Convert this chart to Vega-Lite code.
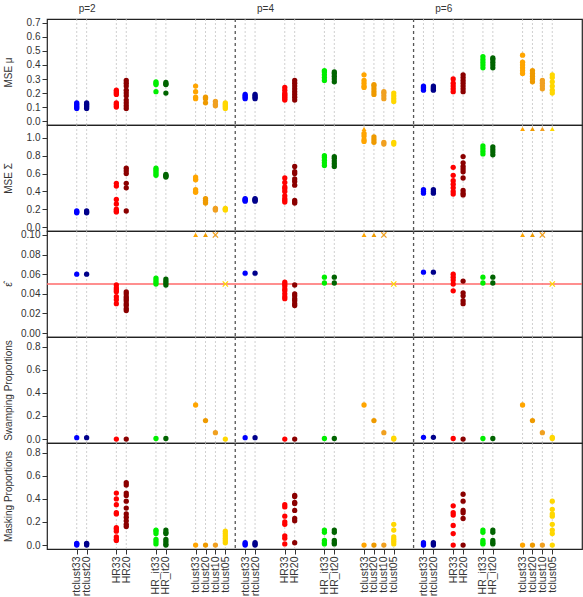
{
"$schema": "https://vega.github.io/schema/vega-lite/v6.json",
"padding": {"left": 2, "top": 2, "right": 0, "bottom": 0},
"spacing": 0,
"bounds": "flush",
"datasets": {
"pos": [{"x":1,"m":"rtclust33"},{"x":2,"m":"rtclust20"},{"x":5,"m":"HR33"},{"x":6,"m":"HR20"},{"x":9,"m":"HR_it33"},{"x":10,"m":"HR_it20"},{"x":13,"m":"tclust33"},{"x":14,"m":"tclust20"},{"x":15,"m":"tclust10"},{"x":16,"m":"tclust05"},
{"x":18,"m":"rtclust33"},{"x":19,"m":"rtclust20"},{"x":22,"m":"HR33"},{"x":23,"m":"HR20"},{"x":26,"m":"HR_it33"},{"x":27,"m":"HR_it20"},{"x":30,"m":"tclust33"},{"x":31,"m":"tclust20"},{"x":32,"m":"tclust10"},{"x":33,"m":"tclust05"},
{"x":36,"m":"rtclust33"},{"x":37,"m":"rtclust20"},{"x":39,"m":"HR33"},{"x":40,"m":"HR20"},{"x":42,"m":"HR_it33"},{"x":43,"m":"HR_it20"},{"x":46,"m":"tclust33"},{"x":47,"m":"tclust20"},{"x":48,"m":"tclust10"},{"x":49,"m":"tclust05"}],
"sep": [{"x":17},{"x":35}],
"ref": [{"y":0.05}],
"off": [
{"g":"sig","x":30,"y":1.1,"s":"tri"},{"g":"sig","x":46,"y":1.1,"s":"tri"},{"g":"sig","x":47,"y":1.1,"s":"tri"},{"g":"sig","x":48,"y":1.1,"s":"tri"},{"g":"sig","x":49,"y":1.1,"s":"tri"},
{"g":"eps","x":13,"y":0.1,"s":"tri"},{"g":"eps","x":14,"y":0.1,"s":"tri"},{"g":"eps","x":15,"y":0.1,"s":"x"},{"g":"eps","x":16,"y":0.05,"s":"x"},
{"g":"eps","x":30,"y":0.1,"s":"tri"},{"g":"eps","x":31,"y":0.1,"s":"tri"},{"g":"eps","x":32,"y":0.1,"s":"x"},{"g":"eps","x":33,"y":0.05,"s":"x"},
{"g":"eps","x":46,"y":0.1,"s":"tri"},{"g":"eps","x":47,"y":0.1,"s":"tri"},{"g":"eps","x":48,"y":0.1,"s":"x"},{"g":"eps","x":49,"y":0.05,"s":"x"}
],
"pts": [
{"g":"mu","x":1,"y":0.09},{"g":"mu","x":1,"y":0.10},{"g":"mu","x":1,"y":0.11},{"g":"mu","x":1,"y":0.12},{"g":"mu","x":1,"y":0.13},
{"g":"mu","x":2,"y":0.09},{"g":"mu","x":2,"y":0.10},{"g":"mu","x":2,"y":0.11},{"g":"mu","x":2,"y":0.12},{"g":"mu","x":2,"y":0.13},
{"g":"mu","x":5,"y":0.10},{"g":"mu","x":5,"y":0.11},{"g":"mu","x":5,"y":0.12},{"g":"mu","x":5,"y":0.13},{"g":"mu","x":5,"y":0.19},{"g":"mu","x":5,"y":0.20},{"g":"mu","x":5,"y":0.21},{"g":"mu","x":5,"y":0.22},
{"g":"mu","x":6,"y":0.09},{"g":"mu","x":6,"y":0.11},{"g":"mu","x":6,"y":0.13},{"g":"mu","x":6,"y":0.15},{"g":"mu","x":6,"y":0.18},{"g":"mu","x":6,"y":0.20},{"g":"mu","x":6,"y":0.22},{"g":"mu","x":6,"y":0.25},{"g":"mu","x":6,"y":0.27},{"g":"mu","x":6,"y":0.29},
{"g":"mu","x":9,"y":0.21},{"g":"mu","x":9,"y":0.26},{"g":"mu","x":9,"y":0.27},{"g":"mu","x":9,"y":0.28},
{"g":"mu","x":10,"y":0.20},{"g":"mu","x":10,"y":0.26},{"g":"mu","x":10,"y":0.265},{"g":"mu","x":10,"y":0.275},
{"g":"mu","x":13,"y":0.16},{"g":"mu","x":13,"y":0.17},{"g":"mu","x":13,"y":0.21},{"g":"mu","x":13,"y":0.25},
{"g":"mu","x":14,"y":0.13},{"g":"mu","x":14,"y":0.16},{"g":"mu","x":14,"y":0.17},
{"g":"mu","x":15,"y":0.11},{"g":"mu","x":15,"y":0.12},{"g":"mu","x":15,"y":0.14},
{"g":"mu","x":16,"y":0.09},{"g":"mu","x":16,"y":0.10},{"g":"mu","x":16,"y":0.11},{"g":"mu","x":16,"y":0.12},{"g":"mu","x":16,"y":0.13},
{"g":"mu","x":18,"y":0.16},{"g":"mu","x":18,"y":0.17},{"g":"mu","x":18,"y":0.18},{"g":"mu","x":18,"y":0.19},
{"g":"mu","x":19,"y":0.16},{"g":"mu","x":19,"y":0.17},{"g":"mu","x":19,"y":0.18},{"g":"mu","x":19,"y":0.19},
{"g":"mu","x":22,"y":0.15},{"g":"mu","x":22,"y":0.16},{"g":"mu","x":22,"y":0.17},{"g":"mu","x":22,"y":0.18},{"g":"mu","x":22,"y":0.19},{"g":"mu","x":22,"y":0.20},{"g":"mu","x":22,"y":0.22},{"g":"mu","x":22,"y":0.24},
{"g":"mu","x":23,"y":0.15},{"g":"mu","x":23,"y":0.17},{"g":"mu","x":23,"y":0.19},{"g":"mu","x":23,"y":0.21},{"g":"mu","x":23,"y":0.23},{"g":"mu","x":23,"y":0.25},{"g":"mu","x":23,"y":0.27},{"g":"mu","x":23,"y":0.29},
{"g":"mu","x":26,"y":0.29},{"g":"mu","x":26,"y":0.31},{"g":"mu","x":26,"y":0.33},{"g":"mu","x":26,"y":0.35},{"g":"mu","x":26,"y":0.36},
{"g":"mu","x":27,"y":0.28},{"g":"mu","x":27,"y":0.30},{"g":"mu","x":27,"y":0.32},{"g":"mu","x":27,"y":0.34},{"g":"mu","x":27,"y":0.35},
{"g":"mu","x":30,"y":0.24},{"g":"mu","x":30,"y":0.25},{"g":"mu","x":30,"y":0.27},{"g":"mu","x":30,"y":0.29},{"g":"mu","x":30,"y":0.33},
{"g":"mu","x":31,"y":0.19},{"g":"mu","x":31,"y":0.21},{"g":"mu","x":31,"y":0.23},{"g":"mu","x":31,"y":0.25},{"g":"mu","x":31,"y":0.26},
{"g":"mu","x":32,"y":0.16},{"g":"mu","x":32,"y":0.18},{"g":"mu","x":32,"y":0.20},{"g":"mu","x":32,"y":0.21},
{"g":"mu","x":33,"y":0.14},{"g":"mu","x":33,"y":0.16},{"g":"mu","x":33,"y":0.18},{"g":"mu","x":33,"y":0.20},
{"g":"mu","x":36,"y":0.22},{"g":"mu","x":36,"y":0.23},{"g":"mu","x":36,"y":0.24},{"g":"mu","x":36,"y":0.25},
{"g":"mu","x":37,"y":0.22},{"g":"mu","x":37,"y":0.23},{"g":"mu","x":37,"y":0.24},{"g":"mu","x":37,"y":0.25},
{"g":"mu","x":39,"y":0.21},{"g":"mu","x":39,"y":0.23},{"g":"mu","x":39,"y":0.25},{"g":"mu","x":39,"y":0.27},{"g":"mu","x":39,"y":0.30},
{"g":"mu","x":40,"y":0.21},{"g":"mu","x":40,"y":0.23},{"g":"mu","x":40,"y":0.25},{"g":"mu","x":40,"y":0.27},{"g":"mu","x":40,"y":0.29},{"g":"mu","x":40,"y":0.31},{"g":"mu","x":40,"y":0.33},
{"g":"mu","x":42,"y":0.38},{"g":"mu","x":42,"y":0.40},{"g":"mu","x":42,"y":0.42},{"g":"mu","x":42,"y":0.44},{"g":"mu","x":42,"y":0.46},
{"g":"mu","x":43,"y":0.38},{"g":"mu","x":43,"y":0.40},{"g":"mu","x":43,"y":0.42},{"g":"mu","x":43,"y":0.44},{"g":"mu","x":43,"y":0.45},
{"g":"mu","x":46,"y":0.34},{"g":"mu","x":46,"y":0.36},{"g":"mu","x":46,"y":0.38},{"g":"mu","x":46,"y":0.40},{"g":"mu","x":46,"y":0.42},{"g":"mu","x":46,"y":0.47},
{"g":"mu","x":47,"y":0.28},{"g":"mu","x":47,"y":0.30},{"g":"mu","x":47,"y":0.32},{"g":"mu","x":47,"y":0.34},{"g":"mu","x":47,"y":0.36},
{"g":"mu","x":48,"y":0.23},{"g":"mu","x":48,"y":0.25},{"g":"mu","x":48,"y":0.27},{"g":"mu","x":48,"y":0.29},
{"g":"mu","x":49,"y":0.20},{"g":"mu","x":49,"y":0.22},{"g":"mu","x":49,"y":0.25},{"g":"mu","x":49,"y":0.28},{"g":"mu","x":49,"y":0.31},{"g":"mu","x":49,"y":0.33},

{"g":"sig","x":1,"y":0.16},{"g":"sig","x":1,"y":0.17},{"g":"sig","x":1,"y":0.18},
{"g":"sig","x":2,"y":0.16},{"g":"sig","x":2,"y":0.17},{"g":"sig","x":2,"y":0.18},
{"g":"sig","x":5,"y":0.17},{"g":"sig","x":5,"y":0.18},{"g":"sig","x":5,"y":0.20},{"g":"sig","x":5,"y":0.26},{"g":"sig","x":5,"y":0.31},{"g":"sig","x":5,"y":0.46},{"g":"sig","x":5,"y":0.49},
{"g":"sig","x":6,"y":0.18},{"g":"sig","x":6,"y":0.44},{"g":"sig","x":6,"y":0.49},{"g":"sig","x":6,"y":0.60},{"g":"sig","x":6,"y":0.63},{"g":"sig","x":6,"y":0.66},
{"g":"sig","x":9,"y":0.58},{"g":"sig","x":9,"y":0.60},{"g":"sig","x":9,"y":0.62},{"g":"sig","x":9,"y":0.64},{"g":"sig","x":9,"y":0.66},
{"g":"sig","x":10,"y":0.56},{"g":"sig","x":10,"y":0.57},{"g":"sig","x":10,"y":0.58},{"g":"sig","x":10,"y":0.59},
{"g":"sig","x":13,"y":0.39},{"g":"sig","x":13,"y":0.40},{"g":"sig","x":13,"y":0.42},{"g":"sig","x":13,"y":0.53},{"g":"sig","x":13,"y":0.54},{"g":"sig","x":13,"y":0.56},
{"g":"sig","x":14,"y":0.27},{"g":"sig","x":14,"y":0.28},{"g":"sig","x":14,"y":0.30},{"g":"sig","x":14,"y":0.32},
{"g":"sig","x":15,"y":0.19},{"g":"sig","x":15,"y":0.20},{"g":"sig","x":15,"y":0.21},
{"g":"sig","x":16,"y":0.19},{"g":"sig","x":16,"y":0.20},{"g":"sig","x":16,"y":0.21},
{"g":"sig","x":18,"y":0.29},{"g":"sig","x":18,"y":0.30},{"g":"sig","x":18,"y":0.31},{"g":"sig","x":18,"y":0.32},
{"g":"sig","x":19,"y":0.29},{"g":"sig","x":19,"y":0.30},{"g":"sig","x":19,"y":0.31},{"g":"sig","x":19,"y":0.32},
{"g":"sig","x":22,"y":0.28},{"g":"sig","x":22,"y":0.30},{"g":"sig","x":22,"y":0.32},{"g":"sig","x":22,"y":0.35},{"g":"sig","x":22,"y":0.40},{"g":"sig","x":22,"y":0.43},{"g":"sig","x":22,"y":0.45},{"g":"sig","x":22,"y":0.50},{"g":"sig","x":22,"y":0.55},
{"g":"sig","x":23,"y":0.27},{"g":"sig","x":23,"y":0.28},{"g":"sig","x":23,"y":0.30},{"g":"sig","x":23,"y":0.47},{"g":"sig","x":23,"y":0.51},{"g":"sig","x":23,"y":0.54},{"g":"sig","x":23,"y":0.60},{"g":"sig","x":23,"y":0.62},{"g":"sig","x":23,"y":0.68},
{"g":"sig","x":26,"y":0.69},{"g":"sig","x":26,"y":0.72},{"g":"sig","x":26,"y":0.75},{"g":"sig","x":26,"y":0.78},{"g":"sig","x":26,"y":0.80},
{"g":"sig","x":27,"y":0.68},{"g":"sig","x":27,"y":0.71},{"g":"sig","x":27,"y":0.74},{"g":"sig","x":27,"y":0.77},{"g":"sig","x":27,"y":0.79},
{"g":"sig","x":30,"y":0.96},{"g":"sig","x":30,"y":0.98},{"g":"sig","x":30,"y":1.02},{"g":"sig","x":30,"y":1.05},
{"g":"sig","x":31,"y":0.95},{"g":"sig","x":31,"y":0.98},{"g":"sig","x":31,"y":1.01},
{"g":"sig","x":32,"y":0.93},{"g":"sig","x":32,"y":0.95},
{"g":"sig","x":33,"y":0.93},{"g":"sig","x":33,"y":0.95},
{"g":"sig","x":36,"y":0.38},{"g":"sig","x":36,"y":0.40},{"g":"sig","x":36,"y":0.42},
{"g":"sig","x":37,"y":0.38},{"g":"sig","x":37,"y":0.40},{"g":"sig","x":37,"y":0.42},
{"g":"sig","x":39,"y":0.37},{"g":"sig","x":39,"y":0.40},{"g":"sig","x":39,"y":0.44},{"g":"sig","x":39,"y":0.48},{"g":"sig","x":39,"y":0.52},{"g":"sig","x":39,"y":0.58},{"g":"sig","x":39,"y":0.67},
{"g":"sig","x":40,"y":0.36},{"g":"sig","x":40,"y":0.38},{"g":"sig","x":40,"y":0.41},{"g":"sig","x":40,"y":0.55},{"g":"sig","x":40,"y":0.62},{"g":"sig","x":40,"y":0.65},{"g":"sig","x":40,"y":0.68},{"g":"sig","x":40,"y":0.72},{"g":"sig","x":40,"y":0.79},
{"g":"sig","x":42,"y":0.82},{"g":"sig","x":42,"y":0.85},{"g":"sig","x":42,"y":0.88},{"g":"sig","x":42,"y":0.91},
{"g":"sig","x":43,"y":0.81},{"g":"sig","x":43,"y":0.84},{"g":"sig","x":43,"y":0.87},{"g":"sig","x":43,"y":0.90},

{"g":"eps","x":1,"y":0.060},{"g":"eps","x":2,"y":0.060},
{"g":"eps","x":5,"y":0.030},{"g":"eps","x":5,"y":0.034},{"g":"eps","x":5,"y":0.037},{"g":"eps","x":5,"y":0.042},{"g":"eps","x":5,"y":0.044},{"g":"eps","x":5,"y":0.046},{"g":"eps","x":5,"y":0.049},
{"g":"eps","x":6,"y":0.023},{"g":"eps","x":6,"y":0.025},{"g":"eps","x":6,"y":0.028},{"g":"eps","x":6,"y":0.030},{"g":"eps","x":6,"y":0.033},{"g":"eps","x":6,"y":0.035},{"g":"eps","x":6,"y":0.037},{"g":"eps","x":6,"y":0.040},{"g":"eps","x":6,"y":0.042},
{"g":"eps","x":9,"y":0.050},{"g":"eps","x":9,"y":0.052},{"g":"eps","x":9,"y":0.054},{"g":"eps","x":9,"y":0.056},
{"g":"eps","x":10,"y":0.049},{"g":"eps","x":10,"y":0.051},{"g":"eps","x":10,"y":0.053},{"g":"eps","x":10,"y":0.055},
{"g":"eps","x":18,"y":0.061},{"g":"eps","x":19,"y":0.061},
{"g":"eps","x":22,"y":0.035},{"g":"eps","x":22,"y":0.037},{"g":"eps","x":22,"y":0.040},{"g":"eps","x":22,"y":0.043},{"g":"eps","x":22,"y":0.045},{"g":"eps","x":22,"y":0.048},{"g":"eps","x":22,"y":0.050},{"g":"eps","x":22,"y":0.052},
{"g":"eps","x":23,"y":0.028},{"g":"eps","x":23,"y":0.030},{"g":"eps","x":23,"y":0.033},{"g":"eps","x":23,"y":0.035},{"g":"eps","x":23,"y":0.038},{"g":"eps","x":23,"y":0.040},{"g":"eps","x":23,"y":0.049},
{"g":"eps","x":26,"y":0.051},{"g":"eps","x":26,"y":0.057},{"g":"eps","x":27,"y":0.051},{"g":"eps","x":27,"y":0.057},
{"g":"eps","x":36,"y":0.062},{"g":"eps","x":37,"y":0.062},
{"g":"eps","x":39,"y":0.043},{"g":"eps","x":39,"y":0.050},{"g":"eps","x":39,"y":0.054},{"g":"eps","x":39,"y":0.057},{"g":"eps","x":39,"y":0.060},
{"g":"eps","x":40,"y":0.030},{"g":"eps","x":40,"y":0.033},{"g":"eps","x":40,"y":0.038},{"g":"eps","x":40,"y":0.041},{"g":"eps","x":40,"y":0.053},
{"g":"eps","x":42,"y":0.051},{"g":"eps","x":42,"y":0.057},{"g":"eps","x":43,"y":0.051},{"g":"eps","x":43,"y":0.057},

{"g":"sw","x":1,"y":0.012},{"g":"sw","x":2,"y":0.012},{"g":"sw","x":5,"y":0.0},{"g":"sw","x":6,"y":0.0},{"g":"sw","x":9,"y":0.005},{"g":"sw","x":10,"y":0.005},{"g":"sw","x":13,"y":0.295},{"g":"sw","x":14,"y":0.16},{"g":"sw","x":15,"y":0.055},{"g":"sw","x":16,"y":0.0},
{"g":"sw","x":18,"y":0.012},{"g":"sw","x":19,"y":0.012},{"g":"sw","x":22,"y":0.0},{"g":"sw","x":23,"y":0.0},{"g":"sw","x":26,"y":0.005},{"g":"sw","x":27,"y":0.005},{"g":"sw","x":30,"y":0.295},{"g":"sw","x":31,"y":0.16},{"g":"sw","x":32,"y":0.055},{"g":"sw","x":33,"y":0.0},{"g":"sw","x":33,"y":0.008},
{"g":"sw","x":36,"y":0.015},{"g":"sw","x":37,"y":0.015},{"g":"sw","x":39,"y":0.005},{"g":"sw","x":40,"y":0.0},{"g":"sw","x":42,"y":0.005},{"g":"sw","x":43,"y":0.005},{"g":"sw","x":46,"y":0.295},{"g":"sw","x":47,"y":0.16},{"g":"sw","x":48,"y":0.055},{"g":"sw","x":49,"y":0.005},{"g":"sw","x":49,"y":0.015},

{"g":"ma","x":1,"y":0.0},{"g":"ma","x":1,"y":0.01},{"g":"ma","x":1,"y":0.015},
{"g":"ma","x":2,"y":0.0},{"g":"ma","x":2,"y":0.01},{"g":"ma","x":2,"y":0.015},
{"g":"ma","x":5,"y":0.04},{"g":"ma","x":5,"y":0.05},{"g":"ma","x":5,"y":0.07},{"g":"ma","x":5,"y":0.12},{"g":"ma","x":5,"y":0.14},{"g":"ma","x":5,"y":0.15},{"g":"ma","x":5,"y":0.27},{"g":"ma","x":5,"y":0.28},{"g":"ma","x":5,"y":0.35},{"g":"ma","x":5,"y":0.40},{"g":"ma","x":5,"y":0.45},
{"g":"ma","x":6,"y":0.16},{"g":"ma","x":6,"y":0.18},{"g":"ma","x":6,"y":0.21},{"g":"ma","x":6,"y":0.24},{"g":"ma","x":6,"y":0.27},{"g":"ma","x":6,"y":0.32},{"g":"ma","x":6,"y":0.38},{"g":"ma","x":6,"y":0.43},{"g":"ma","x":6,"y":0.45},{"g":"ma","x":6,"y":0.52},{"g":"ma","x":6,"y":0.54},
{"g":"ma","x":9,"y":0.01},{"g":"ma","x":9,"y":0.03},{"g":"ma","x":9,"y":0.05},{"g":"ma","x":9,"y":0.10},{"g":"ma","x":9,"y":0.12},{"g":"ma","x":9,"y":0.13},
{"g":"ma","x":10,"y":0.0},{"g":"ma","x":10,"y":0.01},{"g":"ma","x":10,"y":0.03},{"g":"ma","x":10,"y":0.05},{"g":"ma","x":10,"y":0.10},{"g":"ma","x":10,"y":0.11},{"g":"ma","x":10,"y":0.13},
{"g":"ma","x":13,"y":0.0},{"g":"ma","x":14,"y":0.0},{"g":"ma","x":15,"y":0.0},
{"g":"ma","x":16,"y":0.02},{"g":"ma","x":16,"y":0.04},{"g":"ma","x":16,"y":0.06},{"g":"ma","x":16,"y":0.08},{"g":"ma","x":16,"y":0.10},{"g":"ma","x":16,"y":0.12},
{"g":"ma","x":18,"y":0.0},{"g":"ma","x":18,"y":0.01},{"g":"ma","x":18,"y":0.02},
{"g":"ma","x":19,"y":0.0},{"g":"ma","x":19,"y":0.01},{"g":"ma","x":19,"y":0.02},
{"g":"ma","x":22,"y":0.01},{"g":"ma","x":22,"y":0.06},{"g":"ma","x":22,"y":0.08},{"g":"ma","x":22,"y":0.18},{"g":"ma","x":22,"y":0.20},{"g":"ma","x":22,"y":0.25},{"g":"ma","x":22,"y":0.33},{"g":"ma","x":22,"y":0.35},
{"g":"ma","x":23,"y":0.02},{"g":"ma","x":23,"y":0.21},{"g":"ma","x":23,"y":0.23},{"g":"ma","x":23,"y":0.30},{"g":"ma","x":23,"y":0.36},{"g":"ma","x":23,"y":0.37},{"g":"ma","x":23,"y":0.42},{"g":"ma","x":23,"y":0.43},
{"g":"ma","x":26,"y":0.01},{"g":"ma","x":26,"y":0.02},{"g":"ma","x":26,"y":0.04},{"g":"ma","x":26,"y":0.11},{"g":"ma","x":26,"y":0.13},
{"g":"ma","x":27,"y":0.01},{"g":"ma","x":27,"y":0.02},{"g":"ma","x":27,"y":0.04},{"g":"ma","x":27,"y":0.11},{"g":"ma","x":27,"y":0.13},
{"g":"ma","x":30,"y":0.0},{"g":"ma","x":31,"y":0.0},{"g":"ma","x":32,"y":0.0},
{"g":"ma","x":33,"y":0.01},{"g":"ma","x":33,"y":0.03},{"g":"ma","x":33,"y":0.05},{"g":"ma","x":33,"y":0.07},{"g":"ma","x":33,"y":0.13},{"g":"ma","x":33,"y":0.18},
{"g":"ma","x":36,"y":0.0},{"g":"ma","x":36,"y":0.01},{"g":"ma","x":36,"y":0.02},
{"g":"ma","x":37,"y":0.0},{"g":"ma","x":37,"y":0.01},{"g":"ma","x":37,"y":0.02},
{"g":"ma","x":39,"y":0.0},{"g":"ma","x":39,"y":0.10},{"g":"ma","x":39,"y":0.17},{"g":"ma","x":39,"y":0.26},{"g":"ma","x":39,"y":0.28},{"g":"ma","x":39,"y":0.34},
{"g":"ma","x":40,"y":0.0},{"g":"ma","x":40,"y":0.23},{"g":"ma","x":40,"y":0.28},{"g":"ma","x":40,"y":0.30},{"g":"ma","x":40,"y":0.38},{"g":"ma","x":40,"y":0.44},
{"g":"ma","x":42,"y":0.01},{"g":"ma","x":42,"y":0.02},{"g":"ma","x":42,"y":0.04},{"g":"ma","x":42,"y":0.11},{"g":"ma","x":42,"y":0.13},
{"g":"ma","x":43,"y":0.01},{"g":"ma","x":43,"y":0.02},{"g":"ma","x":43,"y":0.04},{"g":"ma","x":43,"y":0.11},{"g":"ma","x":43,"y":0.13},
{"g":"ma","x":46,"y":0.0},{"g":"ma","x":47,"y":0.0},{"g":"ma","x":48,"y":0.0},
{"g":"ma","x":49,"y":0.0},{"g":"ma","x":49,"y":0.10},{"g":"ma","x":49,"y":0.13},{"g":"ma","x":49,"y":0.18},{"g":"ma","x":49,"y":0.25},{"g":"ma","x":49,"y":0.27},{"g":"ma","x":49,"y":0.31},{"g":"ma","x":49,"y":0.38}
]
},
"vconcat": [
{
"width": 535, "height": 106,
"encoding": {"x": {"field": "x", "type": "quantitative", "scale": {"domain": [-2, 52], "nice": false, "zero": false},
   "axis": {"orient": "top", "values": [2, 20, 38], "labelExpr": "datum.value == 2 ? 'p=2' : datum.value == 20 ? 'p=4' : 'p=6'", "ticks": false, "tickSize": 0, "labelPadding": 6, "title": null}}},
"layer": [
{"data": {"name": "pos"}, "mark": {"type": "rule", "color": "#C4C4C4", "strokeDash": [2, 2], "strokeWidth": 0.8}},
{"data": {"name": "sep"}, "mark": {"type": "rule", "color": "#555555", "strokeDash": [3, 3], "strokeWidth": 1.3}},
{"data": {"name": "pts"}, "transform": [{"filter": "datum.g === 'mu'"}, {"lookup": "x", "from": {"data": {"name": "pos"}, "key": "x", "fields": ["m"]}}],
 "mark": {"type": "circle", "size": 28, "opacity": 1},
 "encoding": {
  "y": {"field": "y", "type": "quantitative", "scale": {"domain": [-0.028, 0.728], "nice": false, "zero": false}, "axis": {"title": "MSE μ", "values": [0, 0.1, 0.2, 0.3, 0.4, 0.5, 0.6, 0.7], "format": ".1f"}},
  "color": {"field": "m", "type": "nominal", "legend": null, "scale": {"domain": ["rtclust33","rtclust20","HR33","HR20","HR_it33","HR_it20","tclust33","tclust20","tclust10","tclust05"], "range": ["#0000FF","#00008B","#FF0000","#8B0000","#00EE00","#006400","#FFA500","#EE9A00","#F0A020","#FFD700"]}}}}
]
},
{
"width": 535, "height": 106,
"encoding": {"x": {"field": "x", "type": "quantitative", "scale": {"domain": [-2, 52], "nice": false, "zero": false}, "axis": null}},
"layer": [
{"data": {"name": "pos"}, "mark": {"type": "rule", "color": "#C4C4C4", "strokeDash": [2, 2], "strokeWidth": 0.8}},
{"data": {"name": "sep"}, "mark": {"type": "rule", "color": "#555555", "strokeDash": [3, 3], "strokeWidth": 1.3}},
{"data": {"name": "pts"}, "transform": [{"filter": "datum.g === 'sig'"}, {"lookup": "x", "from": {"data": {"name": "pos"}, "key": "x", "fields": ["m"]}}],
 "mark": {"type": "circle", "size": 28, "opacity": 1},
 "encoding": {
  "y": {"field": "y", "type": "quantitative", "scale": {"domain": [-0.044, 1.144], "nice": false, "zero": false}, "axis": {"title": "MSE Σ", "values": [0, 0.2, 0.4, 0.6, 0.8, 1.0], "format": ".1f"}},
  "color": {"field": "m", "type": "nominal", "legend": null, "scale": {"domain": ["rtclust33","rtclust20","HR33","HR20","HR_it33","HR_it20","tclust33","tclust20","tclust10","tclust05"], "range": ["#0000FF","#00008B","#FF0000","#8B0000","#00EE00","#006400","#FFA500","#EE9A00","#F0A020","#FFD700"]}}}},
{"data": {"name": "off"}, "transform": [{"filter": "datum.g === 'sig' && datum.s === 'tri'"}, {"lookup": "x", "from": {"data": {"name": "pos"}, "key": "x", "fields": ["m"]}}],
 "mark": {"type": "point", "shape": "triangle-up", "filled": true, "size": 24, "opacity": 1},
 "encoding": {
  "y": {"field": "y", "type": "quantitative", "scale": {"domain": [-0.044, 1.144], "nice": false, "zero": false}, "axis": {"title": "MSE Σ", "values": [0, 0.2, 0.4, 0.6, 0.8, 1.0], "format": ".1f"}},
  "color": {"field": "m", "type": "nominal", "legend": null, "scale": {"domain": ["rtclust33","rtclust20","HR33","HR20","HR_it33","HR_it20","tclust33","tclust20","tclust10","tclust05"], "range": ["#0000FF","#00008B","#FF0000","#8B0000","#00EE00","#006400","#FFA500","#EE9A00","#F0A020","#FFD700"]}}}}
]
},
{
"width": 535, "height": 106,
"layer": [
{"data": {"name": "pos"}, "mark": {"type": "rule", "color": "#C4C4C4", "strokeDash": [2, 2], "strokeWidth": 0.8},
 "encoding": {"x": {"field": "x", "type": "quantitative", "scale": {"domain": [-2, 52], "nice": false, "zero": false}, "axis": null}}},
{"data": {"name": "sep"}, "mark": {"type": "rule", "color": "#555555", "strokeDash": [3, 3], "strokeWidth": 1.3},
 "encoding": {"x": {"field": "x", "type": "quantitative", "scale": {"domain": [-2, 52], "nice": false, "zero": false}, "axis": null}}},
{"data": {"name": "ref"}, "mark": {"type": "rule", "color": "#FF6A6A", "strokeWidth": 1.3},
 "encoding": {"y": {"field": "y", "type": "quantitative", "scale": {"domain": [-0.004, 0.104], "nice": false, "zero": false}, "axis": {"title": "ε̂", "values": [0, 0.02, 0.04, 0.06, 0.08, 0.1], "format": ".2f"}}}},
{"data": {"name": "pts"}, "transform": [{"filter": "datum.g === 'eps'"}, {"lookup": "x", "from": {"data": {"name": "pos"}, "key": "x", "fields": ["m"]}}],
 "mark": {"type": "circle", "size": 28, "opacity": 1},
 "encoding": {
  "x": {"field": "x", "type": "quantitative", "scale": {"domain": [-2, 52], "nice": false, "zero": false}, "axis": null},
  "y": {"field": "y", "type": "quantitative", "scale": {"domain": [-0.004, 0.104], "nice": false, "zero": false}, "axis": {"title": "ε̂", "values": [0, 0.02, 0.04, 0.06, 0.08, 0.1], "format": ".2f"}},
  "color": {"field": "m", "type": "nominal", "legend": null, "scale": {"domain": ["rtclust33","rtclust20","HR33","HR20","HR_it33","HR_it20","tclust33","tclust20","tclust10","tclust05"], "range": ["#0000FF","#00008B","#FF0000","#8B0000","#00EE00","#006400","#FFA500","#EE9A00","#F0A020","#FFD700"]}}}},
{"data": {"name": "off"}, "transform": [{"filter": "datum.g === 'eps' && datum.s === 'tri'"}, {"lookup": "x", "from": {"data": {"name": "pos"}, "key": "x", "fields": ["m"]}}],
 "mark": {"type": "point", "shape": "triangle-up", "filled": true, "size": 24, "opacity": 1},
 "encoding": {
  "x": {"field": "x", "type": "quantitative", "scale": {"domain": [-2, 52], "nice": false, "zero": false}, "axis": null},
  "y": {"field": "y", "type": "quantitative", "scale": {"domain": [-0.004, 0.104], "nice": false, "zero": false}, "axis": {"title": "ε̂", "values": [0, 0.02, 0.04, 0.06, 0.08, 0.1], "format": ".2f"}},
  "color": {"field": "m", "type": "nominal", "legend": null, "scale": {"domain": ["rtclust33","rtclust20","HR33","HR20","HR_it33","HR_it20","tclust33","tclust20","tclust10","tclust05"], "range": ["#0000FF","#00008B","#FF0000","#8B0000","#00EE00","#006400","#FFA500","#EE9A00","#F0A020","#FFD700"]}}}},
{"data": {"name": "off"}, "transform": [{"filter": "datum.g === 'eps' && datum.s === 'x'"}, {"lookup": "x", "from": {"data": {"name": "pos"}, "key": "x", "fields": ["m"]}}],
 "mark": {"type": "point", "shape": "M-1,-1L1,1M-1,1L1,-1", "filled": false, "size": 28, "strokeWidth": 1.2, "opacity": 1},
 "encoding": {
  "x": {"field": "x", "type": "quantitative", "scale": {"domain": [-2, 52], "nice": false, "zero": false}, "axis": null},
  "y": {"field": "y", "type": "quantitative", "scale": {"domain": [-0.004, 0.104], "nice": false, "zero": false}, "axis": {"title": "ε̂", "values": [0, 0.02, 0.04, 0.06, 0.08, 0.1], "format": ".2f"}},
  "color": {"field": "m", "type": "nominal", "legend": null, "scale": {"domain": ["rtclust33","rtclust20","HR33","HR20","HR_it33","HR_it20","tclust33","tclust20","tclust10","tclust05"], "range": ["#0000FF","#00008B","#FF0000","#8B0000","#00EE00","#006400","#FFA500","#EE9A00","#F0A020","#FFD700"]}}}}
]
},
{
"width": 535, "height": 106,
"encoding": {"x": {"field": "x", "type": "quantitative", "scale": {"domain": [-2, 52], "nice": false, "zero": false}, "axis": null}},
"layer": [
{"data": {"name": "pos"}, "mark": {"type": "rule", "color": "#C4C4C4", "strokeDash": [2, 2], "strokeWidth": 0.8}},
{"data": {"name": "sep"}, "mark": {"type": "rule", "color": "#555555", "strokeDash": [3, 3], "strokeWidth": 1.3}},
{"data": {"name": "pts"}, "transform": [{"filter": "datum.g === 'sw'"}, {"lookup": "x", "from": {"data": {"name": "pos"}, "key": "x", "fields": ["m"]}}],
 "mark": {"type": "circle", "size": 28, "opacity": 1},
 "encoding": {
  "y": {"field": "y", "type": "quantitative", "scale": {"domain": [-0.034, 0.884], "nice": false, "zero": false}, "axis": {"title": "Swamping Proportions", "values": [0, 0.2, 0.4, 0.6, 0.8], "format": ".1f"}},
  "color": {"field": "m", "type": "nominal", "legend": null, "scale": {"domain": ["rtclust33","rtclust20","HR33","HR20","HR_it33","HR_it20","tclust33","tclust20","tclust10","tclust05"], "range": ["#0000FF","#00008B","#FF0000","#8B0000","#00EE00","#006400","#FFA500","#EE9A00","#F0A020","#FFD700"]}}}}
]
},
{
"width": 535, "height": 106,
"encoding": {"x": {"field": "x", "type": "quantitative", "scale": {"domain": [-2, 52], "nice": false, "zero": false},
   "axis": {"orient": "bottom", "title": null, "values": [1,2,5,6,9,10,13,14,15,16,18,19,22,23,26,27,30,31,32,33,36,37,39,40,42,43,46,47,48,49], "labelAngle": -90, "labelAlign": "right", "labelBaseline": "middle", "labelPadding": 2, "labelFontSize": 10.5,
   "labelExpr": "['','rtclust33','rtclust20','','','HR33','HR20','','','HR_it33','HR_it20','','','tclust33','tclust20','tclust10','tclust05','','rtclust33','rtclust20','','','HR33','HR20','','','HR_it33','HR_it20','','','tclust33','tclust20','tclust10','tclust05','','','rtclust33','rtclust20','','HR33','HR20','','HR_it33','HR_it20','','','tclust33','tclust20','tclust10','tclust05'][datum.value]"}}},
"layer": [
{"data": {"name": "pos"}, "mark": {"type": "rule", "color": "#C4C4C4", "strokeDash": [2, 2], "strokeWidth": 0.8}},
{"data": {"name": "sep"}, "mark": {"type": "rule", "color": "#555555", "strokeDash": [3, 3], "strokeWidth": 1.3}},
{"data": {"name": "pts"}, "transform": [{"filter": "datum.g === 'ma'"}, {"lookup": "x", "from": {"data": {"name": "pos"}, "key": "x", "fields": ["m"]}}],
 "mark": {"type": "circle", "size": 28, "opacity": 1},
 "encoding": {
  "y": {"field": "y", "type": "quantitative", "scale": {"domain": [-0.034, 0.884], "nice": false, "zero": false}, "axis": {"title": "Masking Proportions", "values": [0, 0.2, 0.4, 0.6, 0.8], "format": ".1f"}},
  "color": {"field": "m", "type": "nominal", "legend": null, "scale": {"domain": ["rtclust33","rtclust20","HR33","HR20","HR_it33","HR_it20","tclust33","tclust20","tclust10","tclust05"], "range": ["#0000FF","#00008B","#FF0000","#8B0000","#00EE00","#006400","#FFA500","#EE9A00","#F0A020","#FFD700"]}}}}
]
}
],
"config": {
 "view": {"stroke": "#222222", "strokeWidth": 1.2},
 "axis": {"labelFont": "Liberation Sans", "titleFont": "Liberation Sans", "labelFontSize": 10, "titleFontSize": 10, "labelColor": "#333333", "titleColor": "#333333", "tickColor": "#333333", "domain": false, "grid": false, "titleFontWeight": "normal", "tickSize": 5, "labelPadding": 2, "labelFlush": false, "labelOverlap": false, "labelBound": false},
 "axisY": {"titleX": -39, "titleBaseline": "middle"}
}
}
